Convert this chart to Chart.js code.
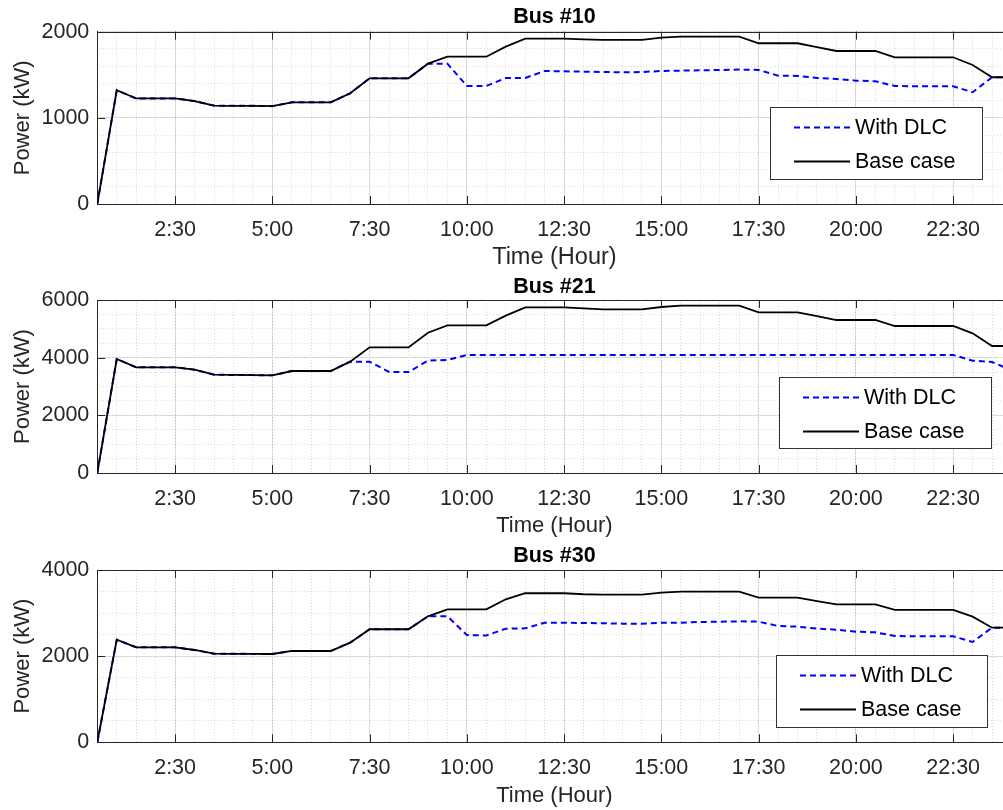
<!DOCTYPE html>
<html>
<head>
<meta charset="utf-8">
<title>Bus power profiles</title>
<script src="https://cdn.jsdelivr.net/npm/chart.js@4.4.0/dist/chart.umd.min.js"></script>
<style>
  html, body { margin: 0; padding: 0; background: #fff; overflow: hidden; width: 1003px; height: 810px; }
  canvas { position: absolute; left: 0; }
</style>
</head>
<body>
<canvas id="bus10" width="1040" height="280" style="top:0"></canvas>
<canvas id="bus21" width="1040" height="280" style="top:270px"></canvas>
<canvas id="bus30" width="1040" height="270" style="top:540px"></canvas>
<script>
// half-hour time slots (hours)
const hours = [0.5, 1, 1.5, 2, 2.5, 3, 3.5, 4, 4.5, 5, 5.5, 6, 6.5, 7, 7.5, 8,
    8.5, 9, 9.5, 10, 10.5, 11, 11.5, 12, 12.5, 13, 13.5, 14, 14.5, 15, 15.5, 16,
    16.5, 17, 17.5, 18, 18.5, 19, 19.5, 20, 20.5, 21, 21.5, 22, 22.5, 23, 23.5, 24];
const tickHours = [2.5, 5, 7.5, 10, 12.5, 15, 17.5, 20, 22.5];
const tickLabels = ['2:30', '5:00', '7:30', '10:00', '12:30', '15:00', '17:30', '20:00', '22:30'];

// Bus #10 (kW)
const bus10Base = [0, 1320, 1225, 1225, 1225, 1195, 1142, 1140, 1140, 1136, 1180, 1180,
    1180, 1285, 1459, 1459, 1459, 1629, 1710, 1710, 1710, 1826, 1919, 1919,
    1919, 1910, 1904, 1904, 1904, 1931, 1943, 1943, 1943, 1943, 1866, 1866,
    1866, 1821, 1776, 1776, 1776, 1703, 1703, 1703, 1703, 1614, 1471, 1471];
const bus10Dlc = [0, 1320, 1225, 1225, 1225, 1195, 1142, 1140, 1140, 1136, 1180, 1180,
    1180, 1285, 1459, 1459, 1459, 1629, 1629, 1370, 1370, 1463, 1463, 1544,
    1540, 1536, 1532, 1529, 1532, 1544, 1548, 1552, 1556, 1560, 1556, 1490,
    1487, 1463, 1451, 1432, 1424, 1370, 1367, 1367, 1367, 1297, 1471, 1471];
const bus10Ticks = [0, 1000, 2000];

// Bus #21 (kW)
const bus21Base = [0, 3954, 3665, 3665, 3665, 3583, 3410, 3400, 3395, 3387, 3537, 3537,
    3537, 3861, 4358, 4358, 4358, 4866, 5121, 5121, 5121, 5456, 5745, 5745,
    5745, 5710, 5676, 5676, 5676, 5757, 5803, 5803, 5803, 5803, 5572, 5572,
    5572, 5440, 5306, 5306, 5306, 5098, 5098, 5098, 5098, 4843, 4404, 4404];
const bus21Dlc = [0, 3954, 3665, 3665, 3665, 3583, 3410, 3400, 3395, 3387, 3537, 3537,
    3537, 3861, 3861, 3503, 3503, 3896, 3920, 4095, 4095, 4095, 4095, 4095,
    4095, 4095, 4095, 4095, 4095, 4095, 4095, 4095, 4095, 4095, 4095, 4095,
    4095, 4095, 4095, 4095, 4095, 4095, 4095, 4095, 4095, 3896, 3850, 3565];
const bus21Ticks = [0, 2000, 4000, 6000];

// Bus #30 (kW)
const bus30Base = [0, 2382, 2206, 2206, 2206, 2143, 2058, 2055, 2052, 2050, 2120, 2120,
    2120, 2313, 2624, 2624, 2624, 2925, 3088, 3088, 3088, 3320, 3460, 3460,
    3460, 3437, 3428, 3428, 3428, 3475, 3498, 3498, 3498, 3498, 3358, 3358,
    3358, 3280, 3204, 3204, 3204, 3072, 3072, 3072, 3072, 2917, 2661, 2661];
const bus30Dlc = [0, 2382, 2206, 2206, 2206, 2143, 2058, 2055, 2052, 2050, 2120, 2120,
    2120, 2313, 2624, 2624, 2624, 2925, 2925, 2491, 2480, 2638, 2645, 2777,
    2777, 2770, 2763, 2755, 2755, 2777, 2777, 2793, 2801, 2808, 2801, 2700,
    2685, 2638, 2615, 2568, 2553, 2468, 2460, 2460, 2460, 2329, 2661, 2661];
const bus30Ticks = [0, 2000, 4000];

const FONT = '"Liberation Sans", Arial, Helvetica, sans-serif';
const AXIS = '#262626';
const MAJOR_GRID = '#e4e4e4';
const MINOR_GRID = 'rgba(38,38,38,0.17)';

// frame on top/right plus inward tick marks on all four sides
const axesFrame = {
    id: 'axesFrame',
    afterDatasetsDraw(chart) {
        const {ctx, chartArea: {left, right, top, bottom}, scales: {x, y}} = chart;
        const len = 8;
        ctx.save();
        ctx.strokeStyle = AXIS;
        ctx.lineWidth = 1;
        ctx.beginPath();
        const t = Math.round(top) + 0.5, r = Math.round(right) - 0.5;
        ctx.moveTo(left, t); ctx.lineTo(right, t);
        ctx.moveTo(r, top); ctx.lineTo(r, bottom);
        x.ticks.forEach(tk => {
            const px = Math.round(x.getPixelForValue(tk.value)) + 0.5;
            ctx.moveTo(px, bottom); ctx.lineTo(px, bottom - len);
            ctx.moveTo(px, top); ctx.lineTo(px, top + len);
        });
        y.ticks.forEach(tk => {
            const py = Math.round(y.getPixelForValue(tk.value)) + 0.5;
            ctx.moveTo(left, py); ctx.lineTo(left + len, py);
            ctx.moveTo(right, py); ctx.lineTo(right - len, py);
        });
        ctx.stroke();
        ctx.restore();
    }
};

// legend box drawn inside the plot area
const boxLegend = {
    id: 'boxLegend',
    afterDraw(chart, args, opts) {
        const ctx = chart.ctx;
        const {left, top, width, height} = opts;
        ctx.save();
        ctx.fillStyle = '#fff';
        ctx.fillRect(left, top, width, height);
        ctx.strokeStyle = '#333';
        ctx.lineWidth = 1;
        ctx.strokeRect(left + 0.5, top + 0.5, width, height);
        ctx.font = '21.5px ' + FONT;
        ctx.textBaseline = 'middle';
        ctx.fillStyle = '#000';
        chart.data.datasets.forEach((ds, i) => {
            const yy = top + (i === 0 ? 20.5 : 54.5);
            ctx.save();
            ctx.strokeStyle = ds.borderColor;
            ctx.lineWidth = ds.borderWidth;
            ctx.setLineDash(ds.borderDash || []);
            ctx.beginPath();
            ctx.moveTo(left + 24, yy);
            ctx.lineTo(left + 80, yy);
            ctx.stroke();
            ctx.restore();
            ctx.fillText(ds.label, left + 85, yy + 1);
        });
        ctx.restore();
    }
};

function makePanel(id, p) {
    const toXY = arr => hours.map((h, i) => ({x: h, y: arr[i]}));
    new Chart(document.getElementById(id), {
        type: 'line',
        data: {
            datasets: [
                {label: 'With DLC', data: toXY(p.dlc), borderColor: '#0000ff', borderWidth: 2,
                    borderDash: [6, 4], pointRadius: 0, order: 1},
                {label: 'Base case', data: toXY(p.base), borderColor: '#000000', borderWidth: 1.8,
                    pointRadius: 0, order: 0}
            ]
        },
        options: {
            responsive: false,
            animation: false,
            events: [],
            layout: {padding: {left: 0, right: 28.5, top: 0, bottom: 0}},
            scales: {
                x: {
                    type: 'linear', min: 0.5, max: 24,
                    afterBuildTicks: s => { s.ticks = tickHours.map(v => ({value: v})); },
                    afterFit: s => { s.height = p.xHeight; },
                    ticks: {
                        callback: (v, i) => tickLabels[i],
                        autoSkip: false, maxRotation: 0, padding: 13,
                        color: AXIS, font: {family: FONT, size: 21.5}
                    },
                    grid: {color: MAJOR_GRID, drawTicks: false},
                    border: {display: true, color: AXIS, width: 1},
                    title: {
                        display: true, text: 'Time (Hour)', color: AXIS,
                        font: {family: FONT, size: p.xTitleSize, lineHeight: 1.2},
                        padding: {top: 0, bottom: p.xTitlePad}
                    }
                },
                xm: {
                    type: 'linear', position: 'bottom', min: 0.5, max: 24,
                    afterBuildTicks: s => { s.ticks = hours.map(v => ({value: v})); },
                    afterFit: s => { s.height = 0; },
                    ticks: {display: false},
                    grid: {color: MINOR_GRID, drawTicks: false},
                    border: {display: false, dash: [1, 2]}
                },
                y: {
                    type: 'linear', min: 0, max: p.ticks[p.ticks.length - 1],
                    afterBuildTicks: s => { s.ticks = p.ticks.map(v => ({value: v})); },
                    afterFit: s => { s.width = 97.3; },
                    ticks: {
                        callback: v => String(v), padding: 8,
                        color: AXIS, font: {family: FONT, size: 21.5}
                    },
                    grid: {color: MAJOR_GRID, drawTicks: false},
                    border: {display: true, color: AXIS, width: 1},
                    title: {
                        display: true, text: 'Power (kW)', color: AXIS,
                        font: {family: FONT, size: 22, lineHeight: 1.2},
                        padding: {top: 10, bottom: 0}
                    }
                },
                ym: {
                    type: 'linear', position: 'left', min: 0, max: p.ticks[p.ticks.length - 1],
                    afterFit: s => { s.width = 0; },
                    ticks: {display: false, stepSize: p.minorStep},
                    grid: {color: MINOR_GRID, drawTicks: false},
                    border: {display: false, dash: [1, 2]}
                }
            },
            plugins: {
                legend: {display: false},
                tooltip: {enabled: false},
                title: {
                    display: true, text: p.title, fullSize: false, color: '#000',
                    font: {family: FONT, size: 21.5, weight: 'bold', lineHeight: 1.2},
                    padding: {top: p.titlePadTop, bottom: p.titlePadBottom}
                },
                boxLegend: p.legend
            }
        },
        plugins: [axesFrame, boxLegend]
    });
}

makePanel('bus10', {
    title: 'Bus #10', base: bus10Base, dlc: bus10Dlc, ticks: bus10Ticks, minorStep: 200,
    titlePadTop: 4.1, titlePadBottom: 1.8, xHeight: 76, xTitleSize: 23.5, xTitlePad: 7.9,
    legend: {left: 770, top: 107, width: 212, height: 72}
});
makePanel('bus21', {
    title: 'Bus #21', base: bus21Base, dlc: bus21Dlc, ticks: bus21Ticks, minorStep: 500,
    titlePadTop: 4.1, titlePadBottom: 0.1, xHeight: 77, xTitleSize: 22, xTitlePad: 10.8,
    legend: {left: 779, top: 107, width: 212, height: 71}
});
makePanel('bus30', {
    title: 'Bus #30', base: bus30Base, dlc: bus30Dlc, ticks: bus30Ticks, minorStep: 500,
    titlePadTop: 3.1, titlePadBottom: 1.1, xHeight: 67.7, xTitleSize: 22, xTitlePad: 0.8,
    legend: {left: 776, top: 115, width: 211, height: 72}
});
</script>
</body>
</html>
